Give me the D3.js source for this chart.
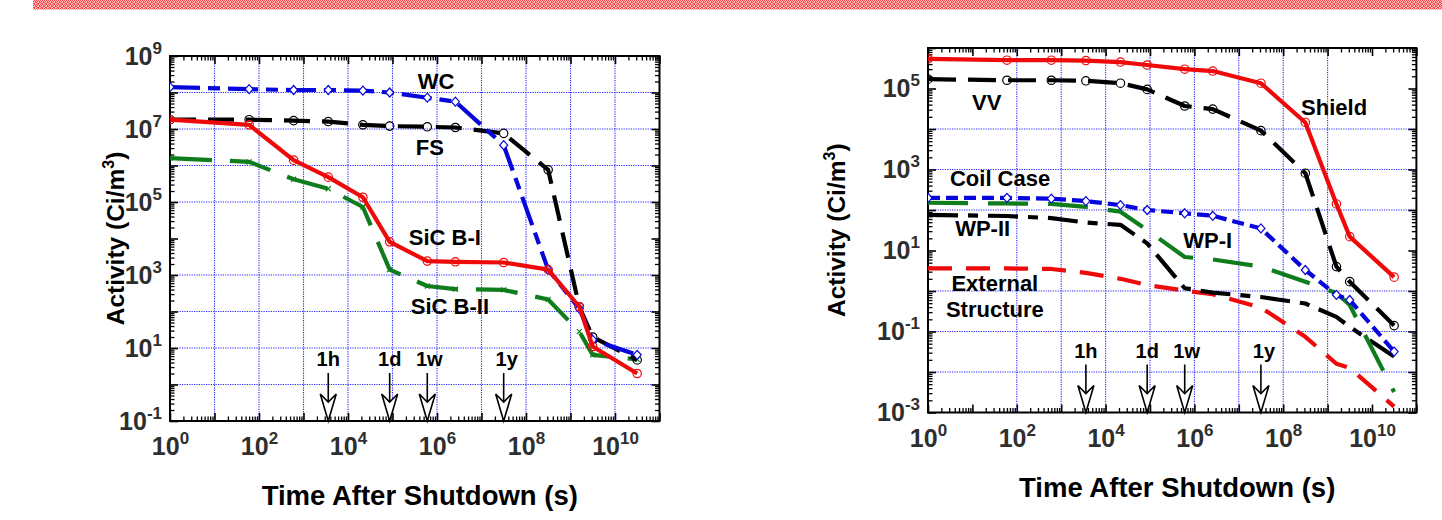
<!DOCTYPE html>
<html>
<head>
<meta charset="utf-8">
<script src="https://cdn.jsdelivr.net/npm/d3@7"></script>
<style>
  body { margin: 0; background: #fff; }
  text { font-family: 'Liberation Sans', Arial, Helvetica, sans-serif; font-weight: bold; }
</style>
</head>
<body>
<svg id="chart" width="1442" height="520"></svg>
<script>
// time steps after shutdown (s): 1s, 1min, 10min, 1h, 6h, 1d, 1w, 30d, 1y, 10y, 50y, 100y, 1000y
const times = [1, 60, 600, 3600, 21600, 86400, 604800, 2.592e6, 3.15e7, 3.15e8, 1.58e9, 3.15e9, 3.15e10]

// left panel, activity (Ci/m3)
const wc = [1.4e8, 1.23e8, 1.17e8, 1.17e8, 1.12e8, 1.0e8, 7.2e7, 5.6e7, 3.6e6, 1.4e3, 120, 16.6, 6.5]
const fs = [1.8e7, 1.8e7, 1.7e7, 1.6e7, 1.3e7, 1.2e7, 1.15e7, 1.1e7, 7.6e6, 7.6e5, 135, 20, 4.7]
const sicB1 = [1.8e7, 1.3e7, 1.4e6, 4.8e5, 1.35e5, 8.1e3, 2.4e3, 2.3e3, 2.2e3, 1.4e3, 135, 11, 2.0]
const sicB2 = [1.6e6, 1.26e6, 4.2e5, 2.3e5, 7.3e4, 1.4e3, 500, 410, 390, 214, 28, 6.5, 4.9]

// right panel, activity (Ci/m3)
const shield = [5.4e5, 5.0e5, 5.0e5, 4.9e5, 4.5e5, 3.8e5, 3.0e5, 2.7e5, 1.35e5, 1.45e4, 141, 22, 2.2]
const vv = [1.7e5, 1.6e5, 1.6e5, 1.55e5, 1.35e5, 9.5e4, 3.7e4, 3.1e4, 9.1e3, 810, 4.0, 1.7, 0.14]
const coilCase = [200, 200, 190, 166, 132, 100, 83, 72, 35, 3.3, 0.8, 0.6, 0.032]
const wp1 = [151, 145, 141, 120, 91, 32, 6.9, 6.0, 4.0, 1.7, 0.89, 0.45, 0.0032]
const wp2 = [76, 71, 63, 49, 43, 15, 1.17, 0.91, 0.71, 0.49, 0.23, 0.13, 0.024]
const external = [3.6, 3.6, 3.5, 2.8, 2.0, 1.4, 1.02, 0.83, 0.39, 0.074, 0.016, 0.0126, 0.0014]

// reference time arrows
const arrowTimes = [3600, 86400, 604800, 3.15e7]
const arrowLabels = ['1h', '1d', '1w', '1y']

// labelled ticks and gridlines
const xLabelTicks = [1, 1e2, 1e4, 1e6, 1e8, 1e10]
const leftYLabelTicks = [1e-1, 1e1, 1e3, 1e5, 1e7, 1e9]
const rightYLabelTicks = [1e-3, 1e-1, 1e1, 1e3, 1e5]
const leftGridX = [1e1, 1e2, 1e3, 1e4, 1e5, 1e6, 1e7, 1e8, 1e9, 1e10]
const leftGridY = [1e-1, 1, 1e1, 1e2, 1e3, 1e5, 1e6, 1e7, 1e8]
const rightGridX = [1e2, 1e3, 1e4, 1e5, 1e6, 1e7, 1e8, 1e9]
const rightGridY = [1e-2, 1e-1, 1, 1e2, 1e3, 1e4]

const RED = '#ee0a0a'
const GREEN = '#0f7d1b'
const BLUE = '#0505dc'
const BLACK = '#000'

const svg = d3.select('#chart')

// hatched red band at top
const defs = svg.append('defs')
const pat = defs.append('pattern')
  .attr('id', 'hatch').attr('width', 4).attr('height', 4)
  .attr('patternUnits', 'userSpaceOnUse')
pat.append('rect').attr('width', 4).attr('height', 4).attr('fill', '#ffbcbc')
;[[0, 0], [2, 0], [1, 1], [3, 1], [0, 2], [3, 2], [1, 3], [2, 3]].forEach(([px, py]) => {
  pat.append('rect').attr('x', px).attr('y', py).attr('width', 1).attr('height', 1).attr('fill', '#ff4545')
})
svg.append('rect').attr('x', 33).attr('y', 0).attr('width', 1409).attr('height', 9.5).attr('fill', 'url(#hatch)')

function supLabel(sel) {
  sel.each(function (d) {
    const t = d3.select(this).text(null)
    t.append('tspan').text('10')
    t.append('tspan').attr('dy', -11).attr('font-size', 17).text(Math.round(Math.log10(d)))
  })
}

function drawPanel(cfg) {
  const x = d3.scaleLog().domain([1, 1e11]).range(cfg.xRange)
  const y = d3.scaleLog().domain(cfg.yDomain).range(cfg.yRange)
  const [x0, x1] = cfg.xRange
  const [yb, yt] = cfg.yRange
  const g = svg.append('g')

  const clipId = 'clip-' + cfg.id
  defs.append('clipPath').attr('id', clipId)
    .append('rect').attr('x', x0).attr('y', yt).attr('width', x1 - x0).attr('height', yb - yt)

  // grid
  const grid = g.append('g').attr('stroke', '#2323ff').attr('stroke-width', 1.1).attr('stroke-dasharray', '1.2,1.2')
  grid.selectAll('.gx').data(cfg.gridX).enter().append('line')
    .attr('x1', d => x(d)).attr('x2', d => x(d)).attr('y1', yt).attr('y2', yb)
  grid.selectAll('.gy').data(cfg.gridY).enter().append('line')
    .attr('y1', d => y(d)).attr('y2', d => y(d)).attr('x1', x0).attr('x2', x1)

  // ticks (inward on all sides)
  const xAll = x.ticks(30)
  const yAll = y.ticks(30)
  const isMajor = d => Math.abs(Math.log10(d) - Math.round(Math.log10(d))) < 1e-9
  const tickAxes = [
    [d3.axisBottom, `translate(0,${yb})`, xAll, x],
    [d3.axisTop, `translate(0,${yt})`, xAll, x],
    [d3.axisLeft, `translate(${x0},0)`, yAll, y],
    [d3.axisRight, `translate(${x1},0)`, yAll, y]
  ]
  tickAxes.forEach(([ax, tr, vals, sc]) => {
    g.append('g').attr('transform', tr)
      .call(ax(sc).tickValues(vals.filter(d => !isMajor(d))).tickSize(-4.5).tickFormat(''))
      .call(a => a.select('.domain').remove())
      .call(a => a.selectAll('line').attr('stroke-width', 1.3))
    g.append('g').attr('transform', tr)
      .call(ax(sc).tickValues(vals.filter(isMajor)).tickSize(-8).tickFormat(''))
      .call(a => a.select('.domain').remove())
      .call(a => a.selectAll('line').attr('stroke-width', 1.6))
  })

  // frame
  g.append('rect').attr('x', x0).attr('y', yt).attr('width', x1 - x0).attr('height', yb - yt)
    .attr('fill', 'none').attr('stroke', '#000').attr('stroke-width', 2)

  // tick labels
  g.append('g').attr('transform', `translate(0,${yb})`)
    .call(d3.axisBottom(x).tickValues(xLabelTicks).tickSize(0).tickPadding(0))
    .call(a => a.select('.domain').remove())
    .call(a => a.selectAll('text').attr('y', 34).attr('dy', 0)
      .attr('font-size', 25).attr('fill', '#2e2e2e').call(supLabel))
  g.append('g').attr('transform', `translate(${x0},0)`)
    .call(d3.axisLeft(y).tickValues(cfg.yLabelTicks).tickSize(0).tickPadding(0))
    .call(a => a.select('.domain').remove())
    .call(a => a.selectAll('text').attr('x', -8).attr('dy', 8)
      .attr('font-size', 25).attr('fill', '#2e2e2e').call(supLabel))

  // axis titles
  g.append('text').attr('x', (x0 + x1) / 2 + 5).attr('y', yb + 84)
    .attr('text-anchor', 'middle').attr('font-size', 27.5).text('Time After Shutdown (s)')
  const yt2 = g.append('text')
    .attr('transform', `translate(${cfg.yTitleX},${(yb + yt) / 2}) rotate(-90)`)
    .attr('text-anchor', 'middle').attr('font-size', 24.5)
  yt2.append('tspan').text('Activity (Ci/m')
  yt2.append('tspan').attr('dy', -10).attr('font-size', 16).text('3')
  yt2.append('tspan').attr('dy', 10).text(')')

  // series
  const plot = g.append('g').attr('clip-path', `url(#${clipId})`)
  const line = d3.line().x(d => x(d[0])).y(d => y(d[1]))
  cfg.series.forEach(s => {
    const pts = times.map((t, i) => [t, s.values[i]])
    plot.append('path').datum(pts)
      .attr('d', line)
      .attr('fill', 'none')
      .attr('stroke', s.color)
      .attr('stroke-width', 4.2)
      .attr('stroke-dasharray', s.dash)
      .attr('stroke-linejoin', 'round')
    if (!s.marker) return
    const m = plot.append('g').selectAll('.m').data(pts).enter()
    if (s.marker === 'circle') {
      m.append('circle').attr('cx', d => x(d[0])).attr('cy', d => y(d[1])).attr('r', 4.2)
        .attr('fill', 'none').attr('stroke', s.color).attr('stroke-width', 1.2)
    } else if (s.marker === 'diamond') {
      m.append('path').attr('transform', d => `translate(${x(d[0])},${y(d[1])})`)
        .attr('d', 'M0,-4.5L4,0L0,4.5L-4,0Z')
        .attr('fill', '#fff').attr('stroke', s.color).attr('stroke-width', 1.2)
    } else if (s.marker === 'x') {
      m.append('path').attr('transform', d => `translate(${x(d[0])},${y(d[1])})`)
        .attr('d', 'M-2.5,-2.5L2.5,2.5M-2.5,2.5L2.5,-2.5')
        .attr('stroke', s.color).attr('stroke-width', 1.2)
    }
  })

  // series labels (placed in data space)
  cfg.labels.forEach(([txt, t, v]) => {
    g.append('text').attr('x', x(t)).attr('y', y(v)).attr('dy', '0.36em')
      .attr('text-anchor', 'middle').attr('font-size', 22).text(txt)
  })

  // time arrows
  const arr = g.append('g').selectAll('g').data(arrowTimes).enter().append('g')
    .attr('transform', d => `translate(${x(d)},${yb})`)
  arr.append('line').attr('y1', -48).attr('y2', -20).attr('stroke', '#000').attr('stroke-width', 1.6)
  arr.append('path').attr('d', 'M0,0L-8,-27L0,-19L8,-27Z')
    .attr('fill', '#fff').attr('stroke', '#000').attr('stroke-width', 1.6).attr('stroke-linejoin', 'miter')
  arr.append('text').attr('x', (d, i) => i === 3 ? 3 : i === 2 ? 2 : 0).attr('y', -55)
    .attr('text-anchor', 'middle').attr('font-size', 20).text((d, i) => arrowLabels[i])
}

drawPanel({
  id: 'left',
  xRange: [170, 659.5],
  yDomain: [1e-1, 1e9],
  yRange: [421, 56],
  yTitleX: 124,
  yLabelTicks: leftYLabelTicks,
  gridX: leftGridX,
  gridY: leftGridY,
  series: [
    { values: sicB2, color: GREEN, dash: '42,18', marker: 'x' },
    { values: fs, color: BLACK, dash: '26,12', marker: 'circle' },
    { values: wc, color: BLUE, dash: '30,8,12,8', marker: 'diamond' },
    { values: sicB1, color: RED, dash: null, marker: 'circle' }
  ],
  labels: [
    ['WC', 9.5e5, 2.1e8],
    ['FS', 6.9e5, 3.2e6],
    ['SiC B-I', 1.5e6, 1.1e4],
    ['SiC B-II', 1.95e6, 141]
  ]
})

drawPanel({
  id: 'right',
  xRange: [928, 1416.4],
  yDomain: [1e-3, 1e6],
  yRange: [412.5, 48],
  yTitleX: 845,
  yLabelTicks: rightYLabelTicks,
  gridX: rightGridX,
  gridY: rightGridY,
  series: [
    { values: external, color: RED, dash: '24,14', marker: null },
    { values: wp2, color: BLACK, dash: '30,10,10,10', marker: null },
    { values: wp1, color: GREEN, dash: '40,20', marker: null },
    { values: coilCase, color: BLUE, dash: '12,6', marker: 'diamond' },
    { values: vv, color: BLACK, dash: '28,12', marker: 'circle' },
    { values: shield, color: RED, dash: null, marker: 'circle' }
  ],
  labels: [
    ['VV', 21, 4.7e4],
    ['Coil Case', 42, 620],
    ['WP-II', 17, 36],
    ['External', 32, 1.6],
    ['Structure', 32, 0.36],
    ['WP-I', 2.0e6, 18],
    ['Shield', 1.4e9, 3.5e4]
  ]
})
</script>
</body>
</html>
